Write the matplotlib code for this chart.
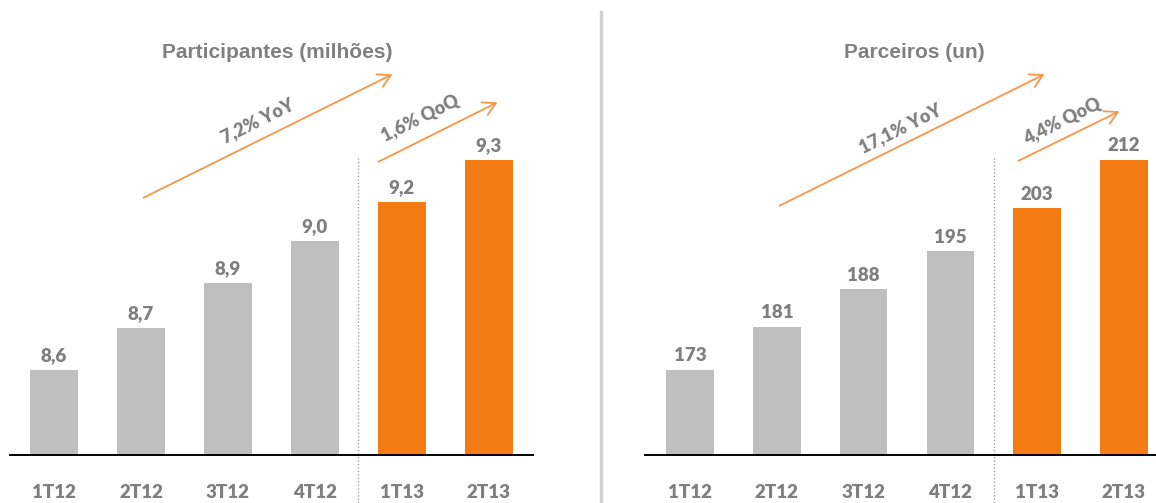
import matplotlib
matplotlib.use("Agg")
import matplotlib.pyplot as plt
from matplotlib.patches import FancyArrowPatch

# ---- data ----
categories = ["1T12", "2T12", "3T12", "4T12", "1T13", "2T13"]
participantes = [8.60, 8.74, 8.89, 9.03, 9.16, 9.30]   # milhões
parceiros = [173, 181, 188, 195, 203, 212]             # unidades
bar_colors = ["#BFBFBF", "#BFBFBF", "#BFBFBF", "#BFBFBF", "#F47A12", "#F47A12"]
title_left = "Participantes (milhões)"
title_right = "Parceiros (un)"
yoy_left, qoq_left = "7,2% YoY", "1,6% QoQ"
yoy_right, qoq_right = "17,1% YoY", "4,4% QoQ"

W, H = 1156, 503
fig = plt.figure(figsize=(W / 100, H / 100), dpi=100)
fig.patch.set_facecolor("white")

GRAY_TXT = "#7F7F7F"
ARROW_C = "#F79646"
NUM_FONT = dict(family=["Lato", "DejaVu Sans"], weight="heavy", color=GRAY_TXT)
TITLE_FONT = dict(family=["Liberation Sans", "DejaVu Sans"], weight="bold", color="#808080")


def px(x, y):
    return x / W, 1 - y / H


def make_panel(left_px, right_px, xlim, values, ymin, px_per_unit, fmt):
    base_y = 455
    height_px = base_y - 0
    ax = fig.add_axes([left_px / W, (H - base_y) / H, (right_px - left_px) / W, height_px / H])
    x = list(range(len(values)))
    ax.bar(x, [v - ymin for v in values], bottom=ymin, width=0.55, color=bar_colors, zorder=2)
    ax.set_xlim(*xlim)
    ax.set_ylim(ymin, ymin + height_px / px_per_unit)
    for s in ["top", "right", "left"]:
        ax.spines[s].set_visible(False)
    ax.spines["bottom"].set_color("black")
    ax.spines["bottom"].set_linewidth(1.4)
    ax.set_yticks([])
    ax.set_xticks(x)
    ax.set_xticklabels(categories, fontsize=13.5, **NUM_FONT)
    ax.tick_params(axis="x", length=0, pad=21)
    for xi, v in zip(x, values):
        ax.annotate(fmt(v), (xi, v), xytext=(0, 4), textcoords="offset points",
                    ha="center", va="bottom", fontsize=13.5, **NUM_FONT)
    ax.axvline(3.5, ymin=-48 / height_px, ymax=(base_y - 157) / height_px, clip_on=False,
               color="#A0A0A0", lw=1.0, ls=(0, (1, 1.5)))
    ax.patch.set_alpha(0)
    return ax


make_panel(10, 533, (-0.506, 5.506), participantes, 8.317, 300.0,
           lambda v: f"{v:.1f}".replace(".", ","))
make_panel(645, 1156, (-0.52, 5.37), parceiros, 157.2, 5.385,
           lambda v: f"{v:d}")

# titles
fig.text(*px(277, 52), title_left, ha="center", va="center", fontsize=15, **TITLE_FONT)
fig.text(*px(914, 53), title_right, ha="center", va="center", fontsize=15, **TITLE_FONT)

# panel separator
fig.add_artist(plt.Line2D([601 / W, 601 / W], [1 - 12 / H, 0], transform=fig.transFigure,
                          color="#CFCFCF", lw=2.4))

# growth arrows
arrows = [((141, 199), (395, 73)), ((376, 163), (500, 101)),
          ((777, 207), (1047, 73)), ((1016, 162), (1122, 110))]
for a, b in arrows:
    fig.add_artist(FancyArrowPatch(px(*a), px(*b), transform=fig.transFigure,
                                   arrowstyle="->,head_length=0.9,head_width=0.5",
                                   mutation_scale=10, color=ARROW_C, lw=1.3))

labels = [(yoy_left, 258, 121), (qoq_left, 420, 118), (yoy_right, 900, 128), (qoq_right, 1062, 121)]
for txt, x, y in labels:
    fig.text(*px(x, y), txt, ha="center", va="center", rotation=26.5, rotation_mode="anchor",
             fontsize=13, **NUM_FONT)

fig.savefig("out.png", dpi=100, facecolor="white")
